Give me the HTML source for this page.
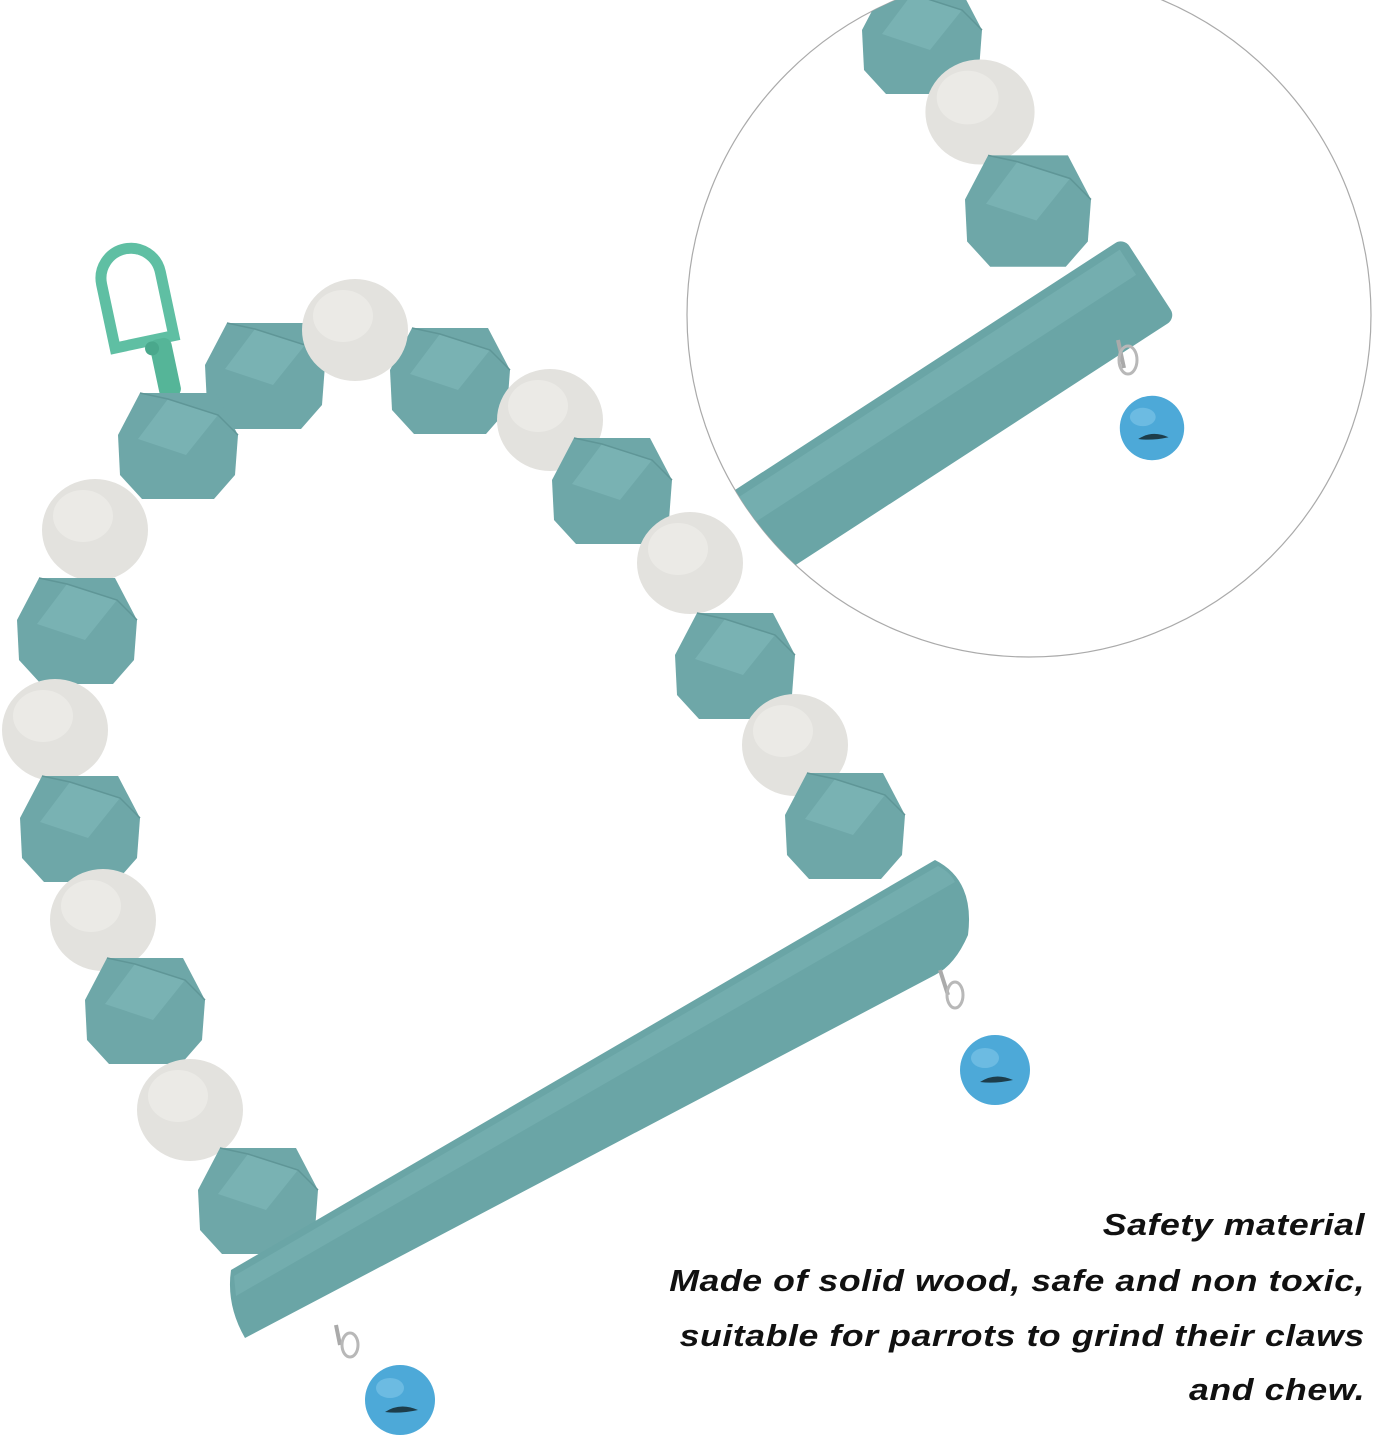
<!DOCTYPE html>
<html><head><meta charset="utf-8"><style>
html,body{margin:0;padding:0;background:#fff}
body{width:1376px;height:1451px;position:relative;overflow:hidden}
.t{position:absolute;right:11px;font-family:"Liberation Sans",sans-serif;font-weight:bold;font-style:italic;font-size:31px;color:#111;text-align:right;white-space:nowrap;transform:scaleX(1.15);transform-origin:right center;letter-spacing:0.5px}
</style></head><body>
<svg width="1376" height="1451" viewBox="0 0 1376 1451" style="position:absolute;left:0;top:0">
<defs>
<g id="hx">
<polygon points="-38,-52 38,-52 60,-10 57,30 36,54 -36,54 -58,30 -60,-10" fill="#6ea7a8"/>
<polygon points="-10,-46 40,-30 8,10 -40,-6" fill="#79b2b3"/>
<polyline points="-38,-52 -10,-46 40,-30 60,-10 M-10,-46 -40,-6 -60,-10 M-40,-6 8,10 40,-30 M8,10 36,54 M8,10 -36,54 M-40,-6 -58,30" fill="none" stroke="#5f9697" stroke-width="1.5"/>
</g>
<g id="wb"><ellipse cx="0" cy="0" rx="53" ry="51" fill="#e3e2de"/><ellipse cx="-12" cy="-14" rx="30" ry="26" fill="#ebeae6"/></g>
<g id="bell">
<circle cx="0" cy="0" r="35" fill="#4da9d8"/>
<ellipse cx="-10" cy="-12" rx="14" ry="10" fill="#6cbbe2"/>
<path d="M-15,12 Q0,2 18,10 Q0,14 -15,12Z" fill="#1d3d4a"/>
</g>
<clipPath id="cc"><circle cx="1029" cy="315" r="342"/></clipPath>
</defs>

<circle cx="1029" cy="315" r="342" fill="#fff" stroke="#aaa" stroke-width="1.2"/>
<g clip-path="url(#cc)">
<use href="#hx" transform="translate(922,40)"/>
<use href="#wb" transform="translate(980,112) scale(1.03)"/>
<use href="#hx" transform="translate(1028,210) scale(1.05)"/>
<g transform="translate(1108,305) rotate(-33)">
<rect x="-560" y="-48" width="610" height="96" rx="10" fill="#6aa5a6"/>
<rect x="-560" y="-40" width="600" height="30" fill="#74aeaf"/>
</g>
<path d="M1118,340 L1124,368" stroke="#aaa" stroke-width="4"/>
<ellipse cx="1128" cy="360" rx="9" ry="14" fill="none" stroke="#b8b8b8" stroke-width="3"/>
<use href="#bell" transform="translate(1152,428) scale(0.92)"/>
</g>

<g transform="translate(150,310) rotate(-12)">
<path d="M-42,30 L-42,-35 A30,30 0 0 1 18,-35 L18,30 Z" fill="none" stroke="#5fbfa3" stroke-width="11"/>
<rect x="-8" y="30" width="22" height="60" rx="8" fill="#55b598"/>
<circle cx="-6" cy="38" r="7" fill="#4aa88c"/>
</g>

<use href="#hx" transform="translate(450,380)"/>
<use href="#wb" transform="translate(550,420)"/>
<use href="#hx" transform="translate(612,490)"/>
<use href="#wb" transform="translate(690,563)"/>
<use href="#hx" transform="translate(735,665)"/>
<use href="#wb" transform="translate(795,745)"/>
<use href="#hx" transform="translate(845,825)"/>
<use href="#hx" transform="translate(265,375)"/>
<use href="#wb" transform="translate(355,330)"/>
<use href="#hx" transform="translate(178,445)"/>
<use href="#wb" transform="translate(95,530)"/>
<use href="#hx" transform="translate(77,630)"/>
<use href="#wb" transform="translate(55,730)"/>
<use href="#hx" transform="translate(80,828)"/>
<use href="#wb" transform="translate(103,920)"/>
<use href="#hx" transform="translate(145,1010)"/>
<use href="#wb" transform="translate(190,1110)"/>
<use href="#hx" transform="translate(258,1200)"/>

<path d="M231,1270 L935,860 Q975,880 968,935 Q955,965 935,975 L245,1338 Q226,1305 231,1270Z" fill="#6aa5a6"/>
<path d="M234,1276 L938,866 Q950,872 955,882 L236,1296Z" fill="#73adae"/>

<path d="M940,970 L948,995" stroke="#aaa" stroke-width="4"/>
<ellipse cx="955" cy="995" rx="8" ry="13" fill="none" stroke="#b8b8b8" stroke-width="3"/>
<use href="#bell" transform="translate(995,1070)"/>
<path d="M336,1325 L340,1345" stroke="#aaa" stroke-width="4"/>
<ellipse cx="350" cy="1345" rx="8" ry="12" fill="none" stroke="#b8b8b8" stroke-width="3"/>
<use href="#bell" transform="translate(400,1400)"/>
</svg>

<div class="t" style="top:1207px">Safety material</div>
<div class="t" style="top:1263px">Made of solid wood, safe and non toxic,</div>
<div class="t" style="top:1318px">suitable for parrots to grind their claws</div>
<div class="t" style="top:1372px">and chew.</div>
</body></html>
